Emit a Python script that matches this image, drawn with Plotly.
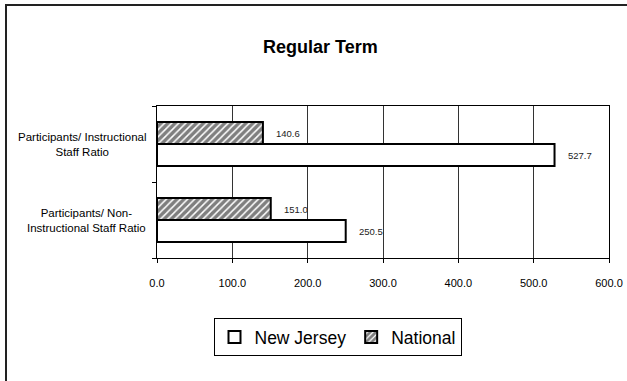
import plotly.graph_objects as go

# Data (bottom-to-top category order as Plotly draws horizontal categories)
categories = ["Participants/ Non-Instructional Staff Ratio", "Participants/ Instructional Staff Ratio"]
category_labels = ["Participants/ Non-<br>Instructional Staff Ratio", "Participants/ Instructional<br>Staff Ratio"]
new_jersey = [250.5, 527.7]
national = [151.0, 140.6]
x_ticks = [0, 100, 200, 300, 400, 500, 600]
title_text = "Regular Term"

FONT = "Liberation Sans, Arial, sans-serif"

# plot area in pixels
L, R, T, B = 157, 609, 106, 258
PW, PH = R - L, B - T

fig = go.Figure()
fig.add_trace(go.Bar(
    y=categories, x=new_jersey, orientation="h", name="New Jersey",
    marker=dict(color="white", line=dict(color="black", width=2)),
))
fig.add_trace(go.Bar(
    y=categories, x=national, orientation="h", name="National",
    marker=dict(color="white", line=dict(color="black", width=2),
                pattern=dict(shape="/", fgcolor="black", bgcolor="white",
                             size=5, solidity=0.7)),
))

annotations = []
# value labels
for ti, series in enumerate((new_jersey, national)):
    off = -11 if ti == 0 else 11
    for cat, v in zip(categories, series):
        annotations.append(dict(
            x=v, y=cat, xref="x", yref="y", text=f"{v:.1f}", showarrow=False,
            xanchor="left", xshift=11, yshift=off,
            font=dict(family=FONT, size=9.5, color="#222"),
        ))
# category labels (centered, multi-line)
for cat, lab in zip(categories, category_labels):
    annotations.append(dict(
        x=0, y=cat, xref="x", yref="y", text=lab, showarrow=False,
        xanchor="right", xshift=-9, align="center",
        font=dict(family=FONT, size=11.5, color="black"),
    ))
# title
annotations.append(dict(
    x=(320 - L) / PW, y=1 + (T - 47) / PH, xref="paper", yref="paper",
    text=f"<b>{title_text}</b>", showarrow=False,
    xanchor="center", yanchor="middle",
    font=dict(family=FONT, size=18, color="black"),
))

fig.update_layout(
    width=627, height=381,
    margin=dict(l=L, r=627 - R, t=T, b=381 - B, autoexpand=False),
    paper_bgcolor="white", plot_bgcolor="white",
    barmode="group", bargap=0.42, bargroupgap=0,
    showlegend=True,
    legend=dict(
        orientation="h", x=(337.5 - L) / PW, xref="paper",
        xanchor="center", y=-(318 - B) / PH, yanchor="top",
        bordercolor="black", borderwidth=1, bgcolor="white",
        font=dict(family=FONT, size=17.5, color="black"),
        itemwidth=30, traceorder="normal",
    ),
    annotations=annotations,
    xaxis=dict(
        range=[0, 600], tickvals=x_ticks, tickformat=".1f",
        showgrid=True, gridcolor="#333", gridwidth=1,
        showline=True, linecolor="black", linewidth=1, mirror=True,
        ticks="outside", ticklen=4, tickcolor="black",
        ticklabelstandoff=11, automargin=False,
        tickfont=dict(family=FONT, size=11, color="black"),
        zeroline=False, fixedrange=True,
    ),
    yaxis=dict(
        categoryorder="array", categoryarray=categories,
        showticklabels=False, showgrid=False, automargin=False,
        showline=True, linecolor="black", linewidth=1, mirror=True,
        ticks="outside", ticklen=4, tickcolor="black", tickson="boundaries",
        fixedrange=True,
    ),
    shapes=[dict(
        type="rect", xref="paper", yref="paper",
        x0=(6 - L) / PW, x1=(640 - L) / PW,
        y0=-(400 - B) / PH, y1=1 + (T - 5) / PH,
        line=dict(color="#222", width=2), fillcolor="rgba(0,0,0,0)", layer="below",
    )],
)

fig.write_html("out.html", config={"displayModeBar": False},
               post_script="document.body.style.margin='0';")
